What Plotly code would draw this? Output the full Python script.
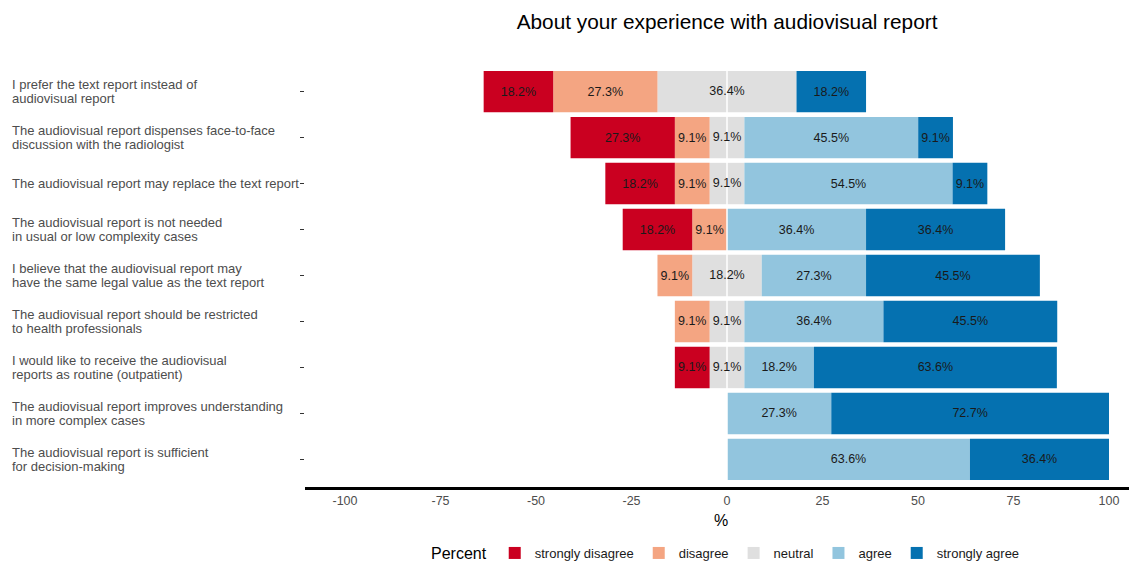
import plotly.graph_objects as go

title = "About your experience with audiovisual report"
items = [
    "I prefer the text report instead of<br>audiovisual report",
    "The audiovisual report dispenses face-to-face<br>discussion with the radiologist",
    "The audiovisual report may replace the text report",
    "The audiovisual report is not needed<br>in usual or low complexity cases",
    "I believe that the audiovisual report may<br>have the same legal value as the text report",
    "The audiovisual report should be restricted<br>to health professionals",
    "I would like to receive the audiovisual<br>reports as routine (outpatient)",
    "The audiovisual report improves understanding<br>in more complex cases",
    "The audiovisual report is sufficient<br>for decision-making",
]
strongly_disagree = [18.2, 27.3, 18.2, 18.2, 0, 0, 9.1, 0, 0]
disagree = [27.3, 9.1, 9.1, 9.1, 9.1, 9.1, 0, 0, 0]
neutral = [36.4, 9.1, 9.1, 0, 18.2, 9.1, 9.1, 0, 0]
agree = [0, 45.5, 54.5, 36.4, 27.3, 36.4, 18.2, 27.3, 63.6]
strongly_agree = [18.2, 9.1, 9.1, 36.4, 45.5, 45.5, 63.6, 72.7, 36.4]
x_ticks = [-100, -75, -50, -25, 0, 25, 50, 75, 100]

colors = {
    "strongly disagree": "#CA0020",
    "disagree": "#F4A582",
    "neutral": "#DFDFDF",
    "agree": "#92C5DE",
    "strongly agree": "#0571B0",
}
FONT = "Liberation Sans, Arial, sans-serif"
TXT = "#1A1A1A"
BAR_W = 0.9

pos = list(range(len(items)))


def lab(vals):
    return [f"{v}%" if v > 0 else "" for v in vals]


fig = go.Figure()


def bar(name, xs, text, rank, showlegend=True):
    fig.add_trace(go.Bar(
        y=pos, x=xs, orientation="h", name=name,
        marker=dict(color=colors[name], line=dict(width=0)),
        text=text, textposition="inside", insidetextanchor="middle",
        textangle=0, constraintext="none",
        textfont=dict(size=12.5, color=TXT, family=FONT),
        width=BAR_W, legendgroup=name, legendrank=rank, showlegend=showlegend,
        hoverinfo="skip",
    ))


# negative side, stacked outward from zero
bar("neutral", [-v / 2 for v in neutral], None, 3, showlegend=False)
bar("disagree", [-v for v in disagree], lab(disagree), 2)
bar("strongly disagree", [-v for v in strongly_disagree], lab(strongly_disagree), 1)
# positive side
bar("neutral", [v / 2 for v in neutral], None, 3)
bar("agree", agree, lab(agree), 4)
bar("strongly agree", strongly_agree, lab(strongly_agree), 5)

# white zero line above bars, below labels
fig.add_trace(go.Scatter(
    x=[0, 0], y=[pos[0] - BAR_W / 2, pos[-1] + BAR_W / 2], mode="lines",
    line=dict(color="white", width=1.5), showlegend=False, hoverinfo="skip",
))

# neutral label centred on zero
nz = [(p, v) for p, v in zip(pos, neutral) if v > 0]
fig.add_trace(go.Scatter(
    x=[0] * len(nz), y=[p for p, _ in nz], mode="text",
    text=[f"{v}%" for _, v in nz],
    textfont=dict(size=12.5, color=TXT, family=FONT),
    showlegend=False, hoverinfo="skip",
))

# item labels, left aligned, one annotation per line for tight spacing
for p, c in zip(pos, items):
    lines = c.split("<br>")
    n = len(lines)
    for i, ln in enumerate(lines):
        fig.add_annotation(
            x=-0.3546, xref="paper", y=p, yref="y", text=ln, showarrow=False,
            xanchor="left", align="left", yshift=((n - 1) / 2 - i) * 14,
            font=dict(size=13, color="#4D4D4D", family=FONT),
        )

fig.update_layout(
    width=1137, height=561,
    margin=dict(l=297, r=8, t=56, b=82),
    paper_bgcolor="white", plot_bgcolor="white",
    barmode="relative", bargap=0.1,
    font=dict(family=FONT, color="#4D4D4D"),
    title=dict(text=title, x=0.6324, xanchor="center", y=0.975, yanchor="middle",
               font=dict(size=20.8, color="black", family=FONT)),
    xaxis=dict(range=[-110.47, 107.33], tickvals=x_ticks,
               ticktext=[str(t) for t in x_ticks],
               showgrid=False, zeroline=False, automargin=False,
               showline=True, linecolor="black", linewidth=3,
               ticks="", tickfont=dict(size=12.5, color="#4D4D4D"),
               title=dict(text="%", font=dict(size=16, color="black"), standoff=8)),
    yaxis=dict(range=[8.6, -0.6], tickvals=pos,
               showticklabels=False, ticks="outside", ticklen=4, tickwidth=1,
               tickcolor="#333333", showgrid=False, zeroline=False, showline=False,
               automargin=False),
    legend=dict(orientation="h", xref="container", yref="container",
                x=0.6324, xanchor="center", y=0.0, yanchor="bottom",
                title=dict(text="Percent", font=dict(size=16, color="black"), side="left"),
                font=dict(size=13, color="#1A1A1A"), traceorder="normal",
                itemwidth=30),
)

fig.write_html("out.html")
